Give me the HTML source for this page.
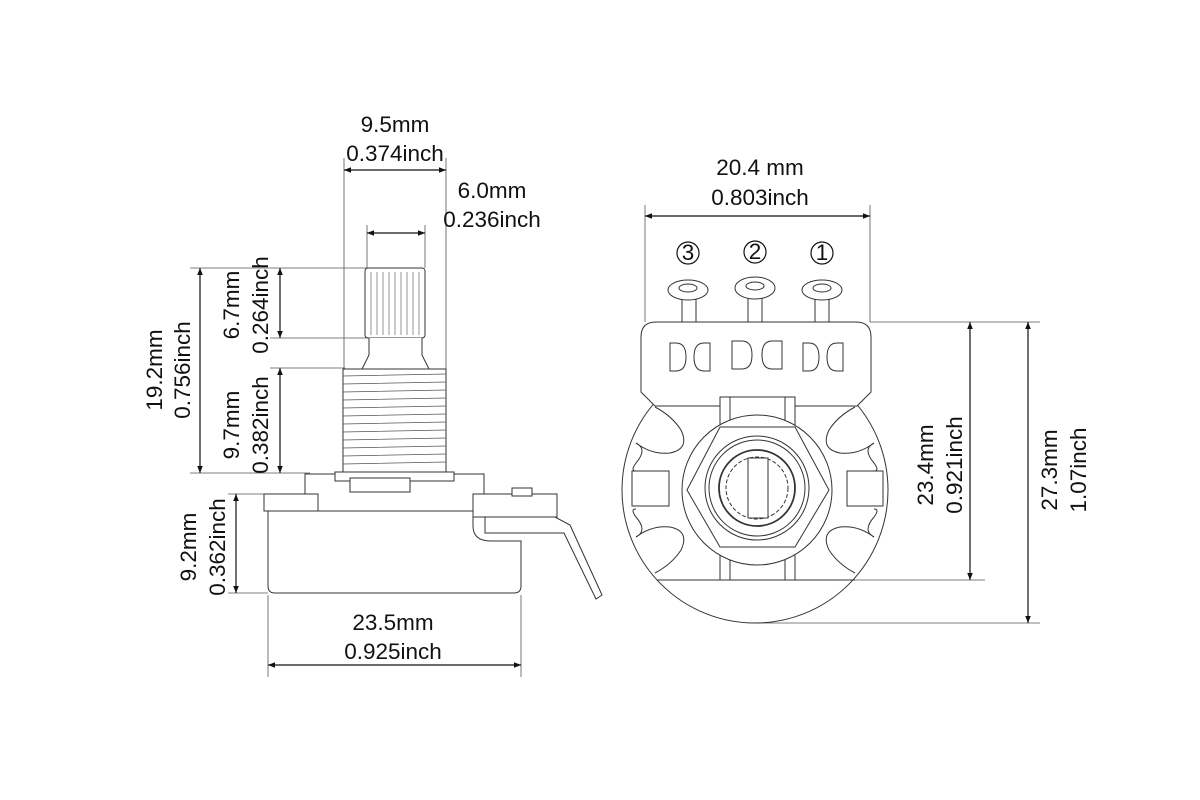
<!DOCTYPE html>
<html><head><meta charset="utf-8"><style>
html,body{margin:0;padding:0;background:#fff;}
svg{display:block;}
text{font-family:"Liberation Sans",sans-serif;font-size:22.5px;fill:#111;}
</style></head><body>
<svg width="1200" height="800" viewBox="0 0 1200 800">
<defs>
<marker id="a" viewBox="0 0 10 10" refX="10" refY="5" markerWidth="10" markerHeight="7" orient="auto-start-reverse" markerUnits="userSpaceOnUse"><path d="M0,1 L10,5 L0,9 z" fill="#111"/></marker>
<path id="slot" d="M655,407 Q672,416 681,430 Q690,449 670,453 Q652,455 636,443"/>
</defs>
<g stroke="#555" stroke-width="0.8" fill="none">
<line x1="344" y1="158" x2="344" y2="470"/>
<line x1="446" y1="158" x2="446" y2="470"/>
<line x1="367" y1="225" x2="367" y2="268"/>
<line x1="425" y1="225" x2="425" y2="268"/>
<line x1="190" y1="268" x2="368" y2="268"/>
<line x1="270" y1="338" x2="368" y2="338"/>
<line x1="270" y1="368" x2="345" y2="368"/>
<line x1="190" y1="473" x2="310" y2="473"/>
<line x1="228" y1="494" x2="268" y2="494"/>
<line x1="228" y1="593" x2="268" y2="593"/>
<line x1="268" y1="595" x2="268" y2="677"/>
<line x1="521" y1="595" x2="521" y2="677"/>
<line x1="645" y1="205" x2="645" y2="322"/>
<line x1="870" y1="205" x2="870" y2="322"/>
<line x1="870" y1="322" x2="1040" y2="322"/>
<line x1="795" y1="580" x2="985" y2="580"/>
<line x1="755" y1="623" x2="1040" y2="623"/>
</g>
<g stroke="#111" stroke-width="1.2" fill="none">
<line x1="344" y1="170" x2="446" y2="170" marker-start="url(#a)" marker-end="url(#a)"/>
<line x1="367" y1="233" x2="425" y2="233" marker-start="url(#a)" marker-end="url(#a)"/>
<line x1="200" y1="268" x2="200" y2="473" marker-start="url(#a)" marker-end="url(#a)"/>
<line x1="280" y1="268" x2="280" y2="338" marker-start="url(#a)" marker-end="url(#a)"/>
<line x1="280" y1="368" x2="280" y2="473" marker-start="url(#a)" marker-end="url(#a)"/>
<line x1="236" y1="494" x2="236" y2="593" marker-start="url(#a)" marker-end="url(#a)"/>
<line x1="268" y1="665" x2="521" y2="665" marker-start="url(#a)" marker-end="url(#a)"/>
<line x1="645" y1="216" x2="870" y2="216" marker-start="url(#a)" marker-end="url(#a)"/>
<line x1="970" y1="322" x2="970" y2="580" marker-start="url(#a)" marker-end="url(#a)"/>
<line x1="1028" y1="322" x2="1028" y2="623" marker-start="url(#a)" marker-end="url(#a)"/>
</g>
<g stroke="#333" stroke-width="1" fill="#fff">
<rect x="365" y="268" width="60" height="70" rx="3"/>
<g stroke="#666" stroke-width="0.7">
<line x1="371" y1="272" x2="371" y2="335"/><line x1="377" y1="272" x2="377" y2="335"/><line x1="383" y1="272" x2="383" y2="335"/><line x1="389" y1="272" x2="389" y2="335"/><line x1="395" y1="272" x2="395" y2="335"/><line x1="401" y1="272" x2="401" y2="335"/><line x1="407" y1="272" x2="407" y2="335"/><line x1="413" y1="272" x2="413" y2="335"/><line x1="419" y1="272" x2="419" y2="335"/>
</g>
<path d="M369,338 L369,355 L362,369 L429,369 L422,355 L422,338"/>
<rect x="343" y="369" width="103" height="103"/>
<g stroke="#555" stroke-width="0.8">
<path d="M343,376l103,-2M343,384l103,-2M343,392l103,-2M343,400l103,-2M343,408l103,-2M343,416l103,-2M343,424l103,-2M343,432l103,-2M343,440l103,-2M343,448l103,-2M343,456l103,-2M343,464l103,-2"/>
</g>
<rect x="335" y="472" width="119" height="9"/>
<path d="M305,474 h30 v7 h119 v-7 h30 v20 h-5 v18 h-204 v-18 h30 z"/>
<rect x="350" y="478" width="60" height="14"/>
<rect x="264" y="494" width="54" height="17"/>
<path d="M268,511 h205 v15 q0,15 18,15 h30 v45 q0,7 -7,7 h-239 q-7,0 -7,-7 z"/>
<rect x="473" y="494" width="84" height="23"/>
<rect x="512" y="488" width="20" height="8"/>
<path d="M485,517 h70 l15,8 l32,70 l-6,4 l-32,-66 h-79 z"/>
</g>
<g stroke="#333" stroke-width="1" fill="#fff">
<circle cx="755" cy="490" r="133"/>
<use href="#slot"/>
<use href="#slot" transform="translate(1510,0) scale(-1,1)"/>
<use href="#slot" transform="translate(0,980) scale(1,-1)"/>
<use href="#slot" transform="translate(1510,980) scale(-1,-1)"/>
<path d="M636,443 q12,6 0,20 q-6,8 0,8" fill="none"/>
<path d="M636,537 q12,-6 0,-20 q-6,-8 0,-8" fill="none"/>
<path d="M874,443 q-12,6 0,20 q6,8 0,8" fill="none"/>
<path d="M874,537 q-12,-6 0,-20 q6,-8 0,-8" fill="none"/>
<rect x="632" y="471" width="37" height="35"/>
<rect x="847" y="471" width="36" height="35"/>
<line x1="657" y1="580" x2="855" y2="580"/>
<line x1="657" y1="405" x2="855" y2="405"/>
<path d="M682,290 v34 h14 v-34"/><ellipse cx="688" cy="290" rx="20" ry="10"/><ellipse cx="688" cy="288" rx="9" ry="4"/>
<path d="M748,290 v34 h14 v-34"/><ellipse cx="755" cy="288" rx="20" ry="11"/><ellipse cx="755" cy="286" rx="9" ry="4"/>
<path d="M815,290 v34 h14 v-34"/><ellipse cx="822" cy="290" rx="20" ry="10"/><ellipse cx="822" cy="288" rx="9" ry="4"/>
<path d="M660,322 h196 q15,0 15,15 v55 l-14,14 h-202 l-14,-14 v-55 q0,-15 15,-15 z"/>
<path d="M670,343 h6 q10,0 10,14 q0,14 -10,14 h-6 z"/><path d="M710,343 h-6 q-10,0 -10,14 q0,14 10,14 h6 z"/>
<path d="M732,341 h10 q10,0 10,14 q0,14 -10,14 h-10 z"/><path d="M782,341 h-10 q-10,0 -10,14 q0,14 10,14 h10 z"/>
<path d="M803,343 h6 q10,0 10,14 q0,14 -10,14 h-6 z"/><path d="M843,343 h-6 q-10,0 -10,14 q0,14 10,14 h6 z"/>
<rect x="720" y="397" width="75" height="30"/><line x1="730" y1="397" x2="730" y2="427"/><line x1="785" y1="397" x2="785" y2="427"/>
<rect x="720" y="547" width="75" height="33"/><line x1="730" y1="547" x2="730" y2="580"/><line x1="785" y1="547" x2="785" y2="580"/>
<circle cx="757" cy="490" r="75"/>
<path d="M687,490 L720,427 L795,427 L829,490 L795,547 L720,547 Z"/>
<circle cx="757" cy="488" r="52"/>
<circle cx="757" cy="488" r="48"/>
<circle cx="757" cy="488" r="38" stroke-width="1.8"/>
<circle cx="757" cy="488" r="31" stroke-dasharray="4 2"/>
<rect x="748" y="458" width="20" height="60"/>
</g>
<g stroke="#111" stroke-width="1.2" fill="none">
<circle cx="688" cy="253" r="11"/><circle cx="755" cy="252" r="11"/><circle cx="822" cy="253" r="11"/>
</g>
<g text-anchor="middle">
<text x="688" y="260" font-size="19" font-family="Liberation Serif, serif">3</text>
<text x="755" y="259" font-size="19" font-family="Liberation Serif, serif">2</text>
<text x="822" y="260" font-size="19" font-family="Liberation Serif, serif">1</text>
<text x="395" y="132">9.5mm</text>
<text x="395" y="161">0.374inch</text>
<text x="492" y="198">6.0mm</text>
<text x="492" y="227">0.236inch</text>
<text x="760" y="175">20.4 mm</text>
<text x="760" y="205">0.803inch</text>
<text x="393" y="630">23.5mm</text>
<text x="393" y="659">0.925inch</text>
<text transform="translate(162,370) rotate(-90)">19.2mm</text>
<text transform="translate(190,370) rotate(-90)">0.756inch</text>
<text transform="translate(239,305) rotate(-90)">6.7mm</text>
<text transform="translate(268,305) rotate(-90)">0.264inch</text>
<text transform="translate(239,425) rotate(-90)">9.7mm</text>
<text transform="translate(268,425) rotate(-90)">0.382inch</text>
<text transform="translate(196,547) rotate(-90)">9.2mm</text>
<text transform="translate(225,547) rotate(-90)">0.362inch</text>
<text transform="translate(933,465) rotate(-90)">23.4mm</text>
<text transform="translate(962,465) rotate(-90)">0.921inch</text>
<text transform="translate(1057,470) rotate(-90)">27.3mm</text>
<text transform="translate(1086,470) rotate(-90)">1.07inch</text>
</g>
</svg>
</body></html>
